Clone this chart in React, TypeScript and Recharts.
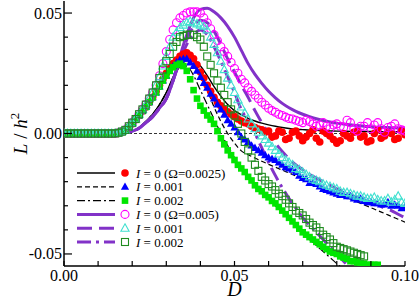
import React from "react";
import { ComposedChart, Line, Scatter, XAxis, YAxis, ReferenceLine } from "recharts";

const FONT = "'Liberation Serif', 'Times New Roman', serif";
const BLACK = "#000000";
const PURPLE = "#8232c8";

// D grid of the theory curves
const D_CURVE = [
  0, 0.002, 0.004, 0.006, 0.008, 0.01, 0.012, 0.014, 0.016, 0.018, 0.02, 0.022, 0.024, 0.026, 0.028,
  0.03, 0.032, 0.034, 0.036, 0.038, 0.04, 0.042, 0.044, 0.046, 0.048, 0.05, 0.052, 0.054, 0.056, 0.058,
  0.06, 0.062, 0.064, 0.066, 0.068, 0.07, 0.072, 0.074, 0.076, 0.078, 0.08, 0.082, 0.084, 0.086, 0.088,
  0.09, 0.092, 0.094, 0.096, 0.098, 0.1,
];

// D grid of the simulation points
const D_SIM = [
  0, 0.001, 0.002, 0.003, 0.004, 0.005, 0.006, 0.007, 0.008, 0.009,
  0.01, 0.011, 0.012, 0.013, 0.014, 0.015, 0.016, 0.017, 0.018, 0.019,
  0.02, 0.021, 0.022, 0.023, 0.024, 0.025, 0.026, 0.027, 0.028, 0.029,
  0.03, 0.031, 0.032, 0.033, 0.034, 0.035, 0.036, 0.037, 0.038, 0.039,
  0.04, 0.041, 0.042, 0.043, 0.044, 0.045, 0.046, 0.047, 0.048, 0.049,
  0.05, 0.051, 0.052, 0.053, 0.054, 0.055, 0.056, 0.057, 0.058, 0.059,
  0.06, 0.061, 0.062, 0.063, 0.064, 0.065, 0.066, 0.067, 0.068, 0.069,
  0.07, 0.071, 0.072, 0.073, 0.074, 0.075, 0.076, 0.077, 0.078, 0.079,
  0.08, 0.081, 0.082, 0.083, 0.084, 0.085, 0.086, 0.087, 0.088, 0.089,
  0.09, 0.091, 0.092, 0.093, 0.094, 0.095, 0.096, 0.097, 0.098, 0.099, 0.1,
];

const X_TICKS = [0, 0.01, 0.02, 0.03, 0.04, 0.05, 0.06, 0.07, 0.08, 0.09, 0.1];
const X_LABELS = [0, 0.05, 0.1];
const Y_TICKS = [-0.05, -0.04, -0.03, -0.02, -0.01, 0, 0.01, 0.02, 0.03, 0.04, 0.05];
const Y_LABELS = [-0.05, 0, 0.05];

// simulation, Omega = 0.0025 (filled symbols)
const RED_I0 = [
  0, 0, 0, 0, 0, 0, 0, 0, 0, 0,
  0, 0, 0, 0, 0, 0, 0.0002, 0.0006, 0.0013, 0.0025,
  0.004, 0.0058, 0.0075, 0.0093, 0.011, 0.013, 0.015, 0.0175, 0.02, 0.0225,
  0.025, 0.027, 0.029, 0.0305, 0.032, 0.033, 0.0335, 0.0325, 0.031, 0.0285,
  0.0255, 0.023, 0.02, 0.0175, 0.015, 0.013, 0.0115, 0.01, 0.009, 0.008,
  0.007, 0.006, 0.0052, 0.0045, 0.004, 0.003, 0.0025, 0.0018, 0.0015, 0.0005,
  0.001, -0.0015, -0.001, 0.001, 0.0005, -0.0025, -0.002, 0.0005, 0.001, -0.001,
  -0.003, -0.0015, 0, 0.0015, -0.002, -0.0035, 0.001, 0, -0.001, -0.0025,
  -0.004, -0.003, 0, -0.001, -0.002, 0.0005, 0.001, -0.0015, -0.001, -0.0035,
  -0.003, 0, 0.0015, -0.002, -0.001, 0.0005, 0, -0.0025, -0.002, 0.001, -0.0005,
];
const BLUE_I1 = [
  0, 0, 0, 0, 0, 0, 0, 0, 0, 0,
  0, 0, 0, 0, 0, 0, 0.0002, 0.0006, 0.0013, 0.0025,
  0.004, 0.0058, 0.0075, 0.0093, 0.011, 0.013, 0.015, 0.017, 0.0195, 0.022,
  0.024, 0.026, 0.028, 0.0295, 0.0305, 0.031, 0.031, 0.0295, 0.028, 0.026,
  0.0235, 0.021, 0.019, 0.0165, 0.0145, 0.012, 0.01, 0.0078, 0.0055, 0.004,
  0.0025, 0.0005, -0.0015, -0.0025, -0.0035, -0.005, -0.006, -0.007, -0.008, -0.009,
  -0.01, -0.0105, -0.011, -0.012, -0.013, -0.014, -0.0145, -0.015, -0.016, -0.0175,
  -0.0185, -0.019, -0.0205, -0.0205, -0.021, -0.022, -0.023, -0.0235, -0.024, -0.0245,
  -0.025, -0.0255, -0.0255, -0.026, -0.026, -0.027, -0.0275, -0.027, -0.028, -0.0285,
  -0.0285, -0.029, -0.029, -0.0295, -0.0295, -0.0285, -0.03, -0.0295, -0.03, -0.031, -0.0305,
];
const GREEN_I2 = [
  0, 0, 0, 0, 0, 0, 0, 0, 0, 0,
  0, 0, 0, 0, 0, 0, 0.0002, 0.0006, 0.0013, 0.0025,
  0.004, 0.0058, 0.0075, 0.0093, 0.011, 0.013, 0.015, 0.017, 0.0195, 0.022,
  0.024, 0.026, 0.0275, 0.0285, 0.029, 0.028, 0.026, 0.0225, 0.018, 0.0145,
  0.0115, 0.0095, 0.0075, 0.0058, 0.004, 0.001, -0.002, -0.0045, -0.007, -0.009,
  -0.011, -0.013, -0.0145, -0.016, -0.018, -0.0195, -0.0215, -0.023, -0.024, -0.0255,
  -0.0265, -0.028, -0.029, -0.0305, -0.032, -0.0335, -0.035, -0.0365, -0.038, -0.0395,
  -0.041, -0.042, -0.043, -0.044, -0.045, -0.046, -0.047, -0.048, -0.049, -0.0495,
  -0.05, -0.051, -0.0515, -0.052, -0.053, -0.053, -0.0535, -0.054, -0.054, -0.0545,
  -0.0545, -0.0545, -0.0545,
];

// simulation, Omega = 0.005 (open symbols)
const MAGENTA_I0 = [
  0, 0, 0, 0, 0, 0, 0, 0, 0, 0,
  0, 0, 0, 0, 0, 0, 0.0003, 0.0008, 0.0015, 0.003,
  0.0045, 0.006, 0.008, 0.01, 0.012, 0.0145, 0.017, 0.02, 0.024, 0.029,
  0.034, 0.039, 0.043, 0.046, 0.048, 0.049, 0.05, 0.0505, 0.0505, 0.0505,
  0.05, 0.048, 0.046, 0.0435, 0.041, 0.0385, 0.036, 0.034, 0.032, 0.0295,
  0.027, 0.025, 0.0225, 0.021, 0.019, 0.0175, 0.016, 0.0145, 0.013, 0.0118,
  0.0105, 0.0095, 0.0088, 0.008, 0.0075, 0.0068, 0.0062, 0.006, 0.0055, 0.005,
  0.0045, 0.0055, 0.005, 0.004, 0.003, 0.0035, 0.0045, 0.003, 0.002, 0.0035,
  0.004, 0.003, 0.0025, 0.0055, 0.0045, 0.002, 0.001, 0.003, 0.003, 0.0045,
  0.002, 0.0035, 0.0045, 0.002, 0.0005, 0.0025, 0.003, 0.004, 0.002, 0.0015, 0.001,
];
const CYAN_I1 = [
  0, 0, 0, 0, 0, 0, 0, 0, 0, 0,
  0, 0, 0, 0, 0, 0, 0.0003, 0.0008, 0.0015, 0.003,
  0.0045, 0.006, 0.008, 0.01, 0.012, 0.0145, 0.017, 0.02, 0.0235, 0.028,
  0.032, 0.036, 0.04, 0.042, 0.044, 0.045, 0.046, 0.0465, 0.046, 0.0455,
  0.045, 0.0445, 0.043, 0.04, 0.037, 0.0335, 0.03, 0.0265, 0.023, 0.02,
  0.017, 0.014, 0.011, 0.0085, 0.006, 0.004, 0.002, 0.0005, -0.001, -0.0025,
  -0.004, -0.0055, -0.007, -0.0085, -0.01, -0.011, -0.012, -0.013, -0.0145, -0.015,
  -0.016, -0.017, -0.018, -0.019, -0.0195, -0.02, -0.021, -0.0215, -0.022, -0.0225,
  -0.023, -0.024, -0.0245, -0.0245, -0.025, -0.0255, -0.026, -0.026, -0.0265, -0.027,
  -0.027, -0.0265, -0.0275, -0.028, -0.028, -0.027, -0.0285, -0.0275, -0.026, -0.0285, -0.029,
];
const DKGREEN_I2 = [
  0, 0, 0, 0, 0, 0, 0, 0, 0, 0,
  0, 0, 0, 0, 0, 0, 0.0003, 0.0008, 0.0015, 0.003,
  0.0045, 0.006, 0.008, 0.01, 0.012, 0.0145, 0.017, 0.02, 0.023, 0.0265,
  0.03, 0.033, 0.036, 0.038, 0.04, 0.0405, 0.041, 0.041, 0.041, 0.04,
  0.039, 0.036, 0.032, 0.0285, 0.025, 0.022, 0.019, 0.016, 0.013, 0.01,
  0.0075, 0.004, 0, -0.0035, -0.007, -0.01, -0.013, -0.0155, -0.018, -0.0195,
  -0.021, -0.022, -0.0235, -0.025, -0.026, -0.0275, -0.029, -0.0305, -0.032, -0.033,
  -0.034, -0.0355, -0.037, -0.038, -0.039, -0.0405, -0.042, -0.043, -0.044, -0.0455,
  -0.047, -0.0475, -0.048, -0.0485, -0.049, -0.0495, -0.05, -0.0505, -0.051,
];

// theory curves, Omega = 0.0025 (black) and 0.005 (purple)
const THEORY_A_I0 = [
  0, 0, 0, 0, 0, 0, 0, 0, 0.0001, 0.0003, 0.001, 0.0025, 0.005, 0.008, 0.012, 0.017, 0.0235, 0.029, 0.0315,
  0.0305, 0.028, 0.024, 0.0195, 0.0155, 0.012, 0.0095, 0.0078, 0.0063, 0.0052, 0.0043, 0.0036, 0.003,
  0.0025, 0.0021, 0.0018, 0.0016, 0.0014, 0.0013, 0.0012, 0.0011, 0.001, 0.001, 0.0009, 0.0009, 0.0008,
  0.0008, 0.0008, 0.0007, 0.0007, 0.0007, 0.0007,
];
const THEORY_A_I1 = [
  0, 0, 0, 0, 0, 0, 0, 0, 0.0001, 0.0003, 0.001, 0.0025, 0.005, 0.008, 0.012, 0.017, 0.023, 0.028, 0.03,
  0.028, 0.024, 0.018, 0.011, 0.005, 0, -0.004, -0.0072, -0.0088, -0.0102, -0.0115, -0.0128, -0.014,
  -0.0152, -0.0164, -0.0176, -0.0188, -0.02, -0.0212, -0.0224, -0.0236, -0.0248, -0.026, -0.0272, -0.0284,
  -0.0296, -0.0308, -0.032, -0.0332, -0.0344, -0.0356, -0.0368,
];
const THEORY_A_I2 = [
  0, 0, 0, 0, 0, 0, 0, 0, 0.0001, 0.0003, 0.001, 0.0025, 0.005, 0.008, 0.012, 0.017, 0.0225, 0.0275, 0.028,
  0.024, 0.018, 0.012, 0.006, 0, -0.005, -0.01, -0.014, -0.018, -0.021, -0.024, -0.027, -0.03, -0.0328,
  -0.0356, -0.0385, -0.0413, -0.044, -0.0465, -0.049, -0.0515, -0.054, -0.0565,
];
const THEORY_B_I0 = [
  0, 0, 0, 0, 0, 0, 0, 0, 0.0001, 0.0004, 0.001, 0.0022, 0.0045, 0.007, 0.0105, 0.0145, 0.022, 0.032, 0.041,
  0.048, 0.0515, 0.052, 0.0505, 0.048, 0.0445, 0.04, 0.0345, 0.029, 0.0245, 0.0208, 0.0175, 0.0148, 0.0125,
  0.0107, 0.0092, 0.008, 0.007, 0.0061, 0.0054, 0.0048, 0.0043, 0.0039, 0.0036, 0.0033, 0.003, 0.0028,
  0.0026, 0.0025, 0.0024, 0.0023, 0.0022,
];
const THEORY_B_I1 = [
  0, 0, 0, 0, 0, 0, 0, 0, 0.0001, 0.0004, 0.001, 0.0022, 0.0045, 0.007, 0.0105, 0.0145, 0.022, 0.031, 0.039,
  0.0445, 0.047, 0.046, 0.0425, 0.037, 0.031, 0.0255, 0.02, 0.015, 0.0095, 0.0045, 0, -0.004, -0.0075,
  -0.0105, -0.013, -0.015, -0.017, -0.0185, -0.02, -0.0215, -0.023, -0.024, -0.0255, -0.0265, -0.0275,
  -0.0285, -0.0295, -0.031, -0.032, -0.0335, -0.035,
];
const THEORY_B_I2 = [
  0, 0, 0, 0, 0, 0, 0, 0, 0.0001, 0.0004, 0.001, 0.0022, 0.0045, 0.007, 0.0105, 0.0145, 0.022, 0.03, 0.037,
  0.041, 0.043, 0.041, 0.036, 0.03, 0.0235, 0.017, 0.01, 0.005, 0, -0.006, -0.012, -0.0175, -0.0225, -0.027,
  -0.031, -0.035, -0.038, -0.041, -0.044, -0.047, -0.05, -0.053, -0.056,
];

const toPts = (grid: number[], ys: number[]) => ys.map((L, i) => ({ D: grid[i], L }));

type ShapeProps = { cx?: number; cy?: number };

const circleShape = (color: string, filled: boolean) => (p: ShapeProps) => (
  <circle
    cx={p.cx}
    cy={p.cy}
    r={filled ? 3.8 : 4}
    fill={filled ? color : "none"}
    stroke={color}
    strokeWidth={filled ? 0 : 1.1}
  />
);

const triShape = (color: string, filled: boolean) => (p: ShapeProps) => {
  const cx = p.cx ?? 0;
  const cy = p.cy ?? 0;
  return (
    <polygon
      points={`${cx},${cy - 4.4} ${cx + 4.1},${cy + 3} ${cx - 4.1},${cy + 3}`}
      fill={filled ? color : "none"}
      stroke={color}
      strokeWidth={filled ? 0 : 1.1}
    />
  );
};

const squareShape = (color: string, filled: boolean) => (p: ShapeProps) => {
  const cx = p.cx ?? 0;
  const cy = p.cy ?? 0;
  const s = filled ? 6.6 : 7;
  return (
    <rect
      x={cx - s / 2}
      y={cy - s / 2}
      width={s}
      height={s}
      fill={filled ? color : "none"}
      stroke={color}
      strokeWidth={filled ? 0 : 1.1}
    />
  );
};

const SERIES_PTS = [
  { key: "red", data: RED_I0, shape: circleShape("#ff0000", true) },
  { key: "blue", data: BLUE_I1, shape: triShape("#0000ff", true) },
  { key: "green", data: GREEN_I2, shape: squareShape("#00e600", true) },
  { key: "magenta", data: MAGENTA_I0, shape: circleShape("#ff00ff", false) },
  { key: "cyan", data: CYAN_I1, shape: triShape("#40e0d0", false) },
  { key: "dkgreen", data: DKGREEN_I2, shape: squareShape("#1f8b1f", false) },
];

const SERIES_LINES = [
  { key: "a0", data: THEORY_A_I0, color: BLACK, width: 1.4, dash: undefined },
  { key: "a1", data: THEORY_A_I1, color: BLACK, width: 1.2, dash: "5 3" },
  { key: "a2", data: THEORY_A_I2, color: BLACK, width: 1.2, dash: "8 3 2 3" },
  { key: "b0", data: THEORY_B_I0, color: PURPLE, width: 3, dash: undefined },
  { key: "b1", data: THEORY_B_I1, color: PURPLE, width: 3, dash: "15 7" },
  { key: "b2", data: THEORY_B_I2, color: PURPLE, width: 3, dash: "14 5 3 5" },
];

const LEGEND = [
  { label: "0 (Ω=0.0025)", color: BLACK, width: 1.4, dash: undefined, shape: circleShape("#ff0000", true) },
  { label: "0.001", color: BLACK, width: 1.2, dash: "5 3", shape: triShape("#0000ff", true) },
  { label: "0.002", color: BLACK, width: 1.2, dash: "8 3 2 3", shape: squareShape("#00e600", true) },
  { label: "0 (Ω=0.005)", color: PURPLE, width: 3, dash: undefined, shape: circleShape("#ff00ff", false) },
  { label: "0.001", color: PURPLE, width: 3, dash: "15 7", shape: triShape("#40e0d0", false) },
  { label: "0.002", color: PURPLE, width: 3, dash: "14 5 3 5", shape: squareShape("#1f8b1f", false) },
];

const fmt = (v: number) => (v < 0 ? "-" : "") + Math.abs(v).toFixed(2);
const isMajor = (list: number[], v: number) => list.some((m) => Math.abs(m - v) < 1e-9);

function BottomTick(props: any) {
  const { x, y, payload } = props;
  const major = isMajor(X_LABELS, payload.value);
  return (
    <g>
      <line x1={x} x2={x} y1={y} y2={y - 5} stroke="#000" strokeWidth={1.2} />
      {major && (
        <text x={x} y={y + 15} textAnchor="middle" fontFamily={FONT} fontSize={16} fill="#000">
          {fmt(payload.value)}
        </text>
      )}
    </g>
  );
}

function TopTick(props: any) {
  const { x, y } = props;
  return <line x1={x} x2={x} y1={y} y2={y + 5} stroke="#000" strokeWidth={1.2} />;
}

function LeftTick(props: any) {
  const { x, y, payload } = props;
  const major = isMajor(Y_LABELS, payload.value);
  return (
    <g>
      <line x1={x} x2={x + (major ? 8 : 4)} y1={y} y2={y} stroke="#000" strokeWidth={1.2} />
      {major && (
        <text x={x - 2} y={y + 5.5} textAnchor="end" fontFamily={FONT} fontSize={16} fill="#000">
          {fmt(payload.value)}
        </text>
      )}
    </g>
  );
}

function RightTick(props: any) {
  const { x, y, payload } = props;
  const major = isMajor(Y_LABELS, payload.value);
  return <line x1={x} x2={x - (major ? 7 : 4)} y1={y} y2={y} stroke="#000" strokeWidth={1.2} />;
}

function YLabel(props: any) {
  const vb = props.viewBox || { x: 0, y: 0, width: 64, height: 265 };
  const cy = vb.y + vb.height / 2;
  return (
    <text
      transform={`translate(${vb.x + 27},${cy}) rotate(-90)`}
      textAnchor="middle"
      fontFamily={FONT}
      fontSize={19}
      fill="#000"
    >
      <tspan fontStyle="italic">L</tspan>
      <tspan> / </tspan>
      <tspan fontStyle="italic">h</tspan>
      <tspan dy={-8} fontSize={13}>2</tspan>
    </text>
  );
}

function XLabel(props: any) {
  const vb = props.viewBox || { x: 64, y: 266, width: 341, height: 34 };
  return (
    <text x={vb.x + vb.width / 2} y={vb.y + 30} textAnchor="middle" fontFamily={FONT} fontSize={20} fontStyle="italic" fill="#000">
      D
    </text>
  );
}

function LegendBox() {
  const top = 173;
  const step = 13.8;
  return (
    <svg width={420} height={300} style={{ position: "absolute", left: 0, top: 0, pointerEvents: "none" }}>
      {LEGEND.map((item, i) => {
        const y = top + i * step;
        return (
          <g key={i}>
            <line x1={77} x2={115} y1={y} y2={y} stroke={item.color} strokeWidth={item.width} strokeDasharray={item.dash} />
            {item.shape({ cx: 125, cy: y })}
            <text x={136} y={y + 4.5} fontFamily={FONT} fontSize={13} fill="#000">
              <tspan fontStyle="italic">I</tspan>
              <tspan>{" = " + item.label}</tspan>
            </text>
          </g>
        );
      })}
    </svg>
  );
}

export default function App() {
  return (
    <div style={{ position: "absolute", left: 0, top: 0, width: 420, height: 300, background: "#fff" }}>
      <ComposedChart width={420} height={300} margin={{ top: 1, right: 15, bottom: 0, left: 0 }}>
        <XAxis
          xAxisId={0}
          type="number"
          dataKey="D"
          domain={[0, 0.1]}
          ticks={X_TICKS}
          interval={0}
          allowDataOverflow
          height={34}
          tickSize={0}
          tickMargin={0}
          tickLine={false}
          tick={<BottomTick />}
          axisLine={{ stroke: "#000", strokeWidth: 1.5 }}
          label={<XLabel />}
        />
        <XAxis
          xAxisId="top"
          orientation="top"
          type="number"
          dataKey="D"
          domain={[0, 0.1]}
          ticks={X_TICKS}
          interval={0}
          allowDataOverflow
          height={0}
          tickSize={0}
          tickMargin={0}
          tickLine={false}
          tick={<TopTick />}
          axisLine={{ stroke: "#000", strokeWidth: 1.5 }}
        />
        <YAxis
          yAxisId={0}
          type="number"
          dataKey="L"
          domain={[-0.055, 0.055]}
          ticks={Y_TICKS}
          interval={0}
          allowDataOverflow
          width={64}
          tickSize={0}
          tickMargin={0}
          tickLine={false}
          tick={<LeftTick />}
          axisLine={{ stroke: "#000", strokeWidth: 1.5 }}
          label={<YLabel />}
        />
        <YAxis
          yAxisId="right"
          orientation="right"
          type="number"
          dataKey="L"
          domain={[-0.055, 0.055]}
          ticks={Y_TICKS}
          interval={0}
          allowDataOverflow
          width={0}
          tickSize={0}
          tickMargin={0}
          tickLine={false}
          tick={<RightTick />}
          axisLine={{ stroke: "#000", strokeWidth: 1.5 }}
        />
        <ReferenceLine y={0} stroke="#000" strokeWidth={0.8} strokeDasharray="3 2" />
        {SERIES_PTS.map((s) => (
          <Scatter key={s.key} data={toPts(D_SIM, s.data)} dataKey="L" shape={s.shape as any} isAnimationActive={false} />
        ))}
        {SERIES_LINES.map((s) => (
          <Line
            key={s.key}
            data={toPts(D_CURVE, s.data)}
            dataKey="L"
            type="monotone"
            stroke={s.color}
            strokeWidth={s.width}
            strokeDasharray={s.dash}
            dot={false}
            activeDot={false}
            isAnimationActive={false}
          />
        ))}
      </ComposedChart>
      <LegendBox />
    </div>
  );
}
